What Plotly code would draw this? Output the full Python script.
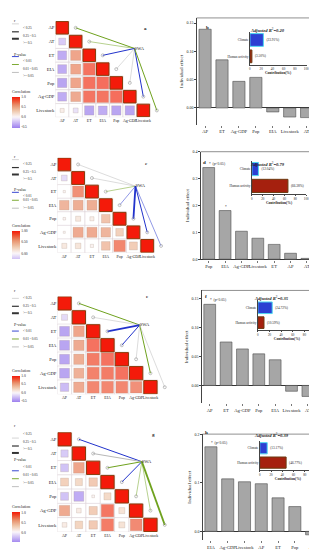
import plotly.graph_objects as go

W, H = 317, 550
FONT = "Liberation Serif"

variables = ["AP", "AT", "ET", "EIA", "Pop", "Ag-GDP", "Livestock"]

# lower-triangle correlations (row i, columns j < i)
corr_a = [[], [-0.30], [-0.50, 0.65], [-0.50, 0.65, 0.90], [-0.55, 0.65, 0.90, 0.92],
          [-0.50, 0.62, 0.88, 0.88, 0.92], [0.10, -0.15, -0.55, -0.50, -0.55, -0.55]]
corr_c = [[], [-0.20], [0.03, 0.75], [0.55, 0.60, 0.60], [0.04, 0.15, 0.10, 0.45],
          [0.02, 0.62, 0.62, 0.55, 0.35], [0.15, 0.18, 0.06, 0.45, 0.80, 0.38]]
corr_e = [[], [-0.20], [-0.55, 0.65], [-0.55, 0.62, 0.90], [-0.55, 0.60, 0.85, 0.90],
          [-0.55, 0.58, 0.82, 0.85, 0.90], [-0.40, 0.62, 0.80, 0.80, 0.80, 0.75]]
corr_g = [[], [-0.30], [-0.35, 0.65], [0.35, 0.28, 0.40], [-0.35, -0.55, 0.04, 0.28],
          [0.62, 0.12, 0.38, 0.88, 0.20], [0.12, 0.32, 0.40, 0.85, 0.20, 0.78]]

# Mantel test links to SWA
mantel_r_a = [0.30, 0.20, 0.30, 0.15, 0.20, 0.30, 0.30]
mantel_p_a = ["0.01 - 0.05", "0.01 - 0.05", "< 0.01", ">= 0.05", ">= 0.05", "< 0.01", "0.01 - 0.05"]
mantel_r_c = [0.15, 0.15, 0.15, 0.20, 0.55, 0.35, 0.20]
mantel_p_c = [">= 0.05", ">= 0.05", "0.01 - 0.05", "< 0.01", "< 0.01", "< 0.01", "< 0.01"]
mantel_r_e = [0.35, 0.15, 0.55, 0.35, 0.15, 0.35, 0.15]
mantel_p_e = ["0.01 - 0.05", ">= 0.05", "< 0.01", "< 0.01", ">= 0.05", "0.01 - 0.05", ">= 0.05"]
mantel_r_g = [0.35, 0.30, 0.30, 0.30, 0.20, 0.20, 0.55]
mantel_p_g = ["< 0.01", ">= 0.05", "0.01 - 0.05", "< 0.01", "0.01 - 0.05", "0.01 - 0.05", "0.01 - 0.05"]

r_legend = ["< 0.25", "0.25 - 0.5", ">= 0.5"]
p_legend = ["< 0.01", "0.01 - 0.05", ">= 0.05"]

# individual effects (bar charts)
cats_b = ["AP", "ET", "Ag-GDP", "Pop", "EIA", "Livestock", "AT"]
vals_b = [0.139, 0.085, 0.047, 0.054, -0.007, -0.016, -0.017]
cats_d = ["Pop", "EIA", "Ag-GDP", "Livestock", "ET", "AP", "AT"]
vals_d = [0.341, 0.181, 0.104, 0.078, 0.055, 0.022, 0.003]
cats_f = ["AP", "ET", "Ag-GDP", "Pop", "EIA", "Livestock", "AT"]
vals_f = [0.140, 0.075, 0.063, 0.0545, 0.0443, -0.010, -0.019]
cats_h = ["EIA", "Ag-GDP", "Livestock", "AP", "ET", "Pop", "AT"]
vals_h = [0.174, 0.108, 0.102, 0.098, 0.069, 0.051, -0.007]

# contributions (inset)
contrib_cats = ["Climate", "Human activity"]
contrib_b = [23.91, 3.50]
contrib_d = [12.04, 66.38]
contrib_f = [24.72, 10.59]
contrib_h = [13.17, 46.77]
r2_vals = ["0.20", "0.79", "0.35", "0.39"]

P_COL = {"< 0.01": "#2233cc", "0.01 - 0.05": "#6fa21e", ">= 0.05": "#b8b8b8"}


def r_width(r):
    return 0.5 if r < 0.25 else (1.0 if r < 0.5 else 1.8)


R_STOPS = [-0.6, -0.5, 0.0, 0.3, 0.6, 0.85, 1.0]
C_STOPS = ["#9274e8", "#a58af0", "#fbf7fa", "#efc8ac", "#e88d68", "#ef4526", "#f41a0a"]


def h2r(h):
    return tuple(int(h[i:i + 2], 16) for i in (1, 3, 5))


def col_at(v):
    if v <= R_STOPS[0]:
        return h2r(C_STOPS[0])
    for a in range(len(R_STOPS) - 1):
        if R_STOPS[a] <= v <= R_STOPS[a + 1]:
            t = (v - R_STOPS[a]) / (R_STOPS[a + 1] - R_STOPS[a])
            c0, c1 = h2r(C_STOPS[a]), h2r(C_STOPS[a + 1])
            return tuple(c0[q] + t * (c1[q] - c0[q]) for q in range(3))
    return h2r(C_STOPS[-1])


def build_scale(cmin, cmax, n=24):
    sc = []
    for q in range(n + 1):
        t = q / n
        c = col_at(cmin + t * (cmax - cmin))
        sc.append([t, "rgb(%d,%d,%d)" % tuple(int(round(x)) for x in c)])
    return sc


def aref(n, ax):
    return ax if n == 1 else f"{ax}{n}"


def akey(n, ax):
    return f"{ax}axis" if n == 1 else f"{ax}axis{n}"


fig = go.Figure()
layout = dict(width=W, height=H, margin=dict(l=0, r=0, t=0, b=0), paper_bgcolor="white",
              plot_bgcolor="rgba(0,0,0,0)", showlegend=False,
              font=dict(family=FONT, color="#222", size=5), annotations=[], shapes=[])


def pxx(x):
    return x / W


def pyy(y):
    return 1 - y / H


def heat_panel(k, corr, mr, mp, geom, swa, crange, cticks, cbar, letter, lpos):
    n = 4 * k + 1
    x0, cw, y0, ch = geom
    xa, ya = aref(n, "x"), aref(n, "y")
    cax = "coloraxis" if k == 0 else f"coloraxis{k + 1}"
    bx, by = [], []
    for i in range(7):
        for j in range(i + 1):
            bx.append(j)
            by.append(i)
    fig.add_trace(go.Scatter(x=bx, y=by, mode="markers", xaxis=xa, yaxis=ya, hoverinfo="skip",
                             marker=dict(symbol="square", size=cw, color="white",
                                         line=dict(color="#ddd3d8", width=0.6))))
    for i in range(7):
        fig.add_trace(go.Scatter(x=[i + 1.0, swa[0]], y=[i, swa[1]], mode="lines", xaxis=xa, yaxis=ya,
                                 line=dict(color=P_COL[mp[i]], width=r_width(mr[i])), hoverinfo="skip"))
    fig.add_trace(go.Scatter(x=[i + 1.0 for i in range(7)], y=list(range(7)), mode="markers",
                             xaxis=xa, yaxis=ya, hoverinfo="skip",
                             marker=dict(symbol="circle-open", size=3, color="#999", line=dict(width=0.6))))
    cx, cy, cv, cs = [], [], [], []
    for i in range(1, 7):
        for j, r in enumerate(corr[i]):
            cx.append(j)
            cy.append(i)
            cv.append(r)
            cs.append(max(2.0, cw * 0.92 * abs(r) ** 0.5))
    fig.add_trace(go.Scatter(x=cx, y=cy, mode="markers", xaxis=xa, yaxis=ya,
                             marker=dict(symbol="square", size=cs, color=cv, coloraxis=cax,
                                         line=dict(width=0.4, color="rgba(120,85,60,0.55)"))))
    fig.add_trace(go.Scatter(x=list(range(7)), y=list(range(7)), mode="markers", xaxis=xa, yaxis=ya,
                             marker=dict(symbol="square", size=cw - 1.2, color=[1.0] * 7, coloraxis=cax,
                                         line=dict(width=1.0, color="#8a3c0c"))))
    fig.add_trace(go.Scatter(x=[swa[0]], y=[swa[1]], mode="text", text=["SWA"], xaxis=xa, yaxis=ya,
                             textposition="middle right", textfont=dict(size=4.5, family=FONT)))
    layout[akey(n, "x")] = dict(domain=[pxx(x0), pxx(x0 + 8.2 * cw)], range=[-0.5, 7.7], anchor=ya,
                                tickvals=list(range(7)), ticktext=variables, showgrid=False,
                                zeroline=False, showline=False, ticks="", tickangle=0,
                                tickfont=dict(size=3.9))
    layout[akey(n, "y")] = dict(domain=[pyy(y0 + 7 * ch), pyy(y0)], range=[6.5, -0.5], anchor=xa,
                                tickvals=list(range(7)), ticktext=variables, showgrid=False,
                                zeroline=False, showline=False, ticks="", tickfont=dict(size=4.6))
    cy0, cy1 = cbar
    layout[cax] = dict(cmin=crange[0], cmax=crange[1], colorscale=build_scale(*crange),
                       colorbar=dict(x=pxx(3), xanchor="left", y=pyy((cy0 + cy1) / 2), yanchor="middle",
                                     len=cy1 - cy0, lenmode="pixels", thickness=8, thicknessmode="pixels",
                                     outlinewidth=0, tickvals=cticks[0], ticktext=cticks[1], ticks="",
                                     tickfont=dict(size=3.6), xpad=0, ypad=0,
                                     title=dict(text="Correlation", side="top", font=dict(size=4))))
    layout["annotations"].append(dict(text=f"<b>{letter}</b>", x=pxx(lpos[0]), y=pyy(lpos[1]),
                                      xref="paper", yref="paper", showarrow=False, font=dict(size=5)))


def legend_block(top):
    offs = [0, 8, 16, 23, 34, 41, 49, 57]
    ann = layout["annotations"]
    ann.append(dict(text="r", x=pxx(3), y=pyy(top + offs[0]), xref="paper", yref="paper",
                    xanchor="left", showarrow=False, font=dict(size=4)))
    ann.append(dict(text="P-value", x=pxx(3), y=pyy(top + offs[4]), xref="paper", yref="paper",
                    xanchor="left", showarrow=False, font=dict(size=4)))
    rcols = ["#bbbbbb", "#333333", "#333333"]
    rws = [0.6, 1.2, 2.0]
    for q in range(3):
        yy = top + offs[1 + q]
        layout["shapes"].append(dict(type="line", xref="paper", yref="paper", x0=pxx(3), x1=pxx(10),
                                     y0=pyy(yy), y1=pyy(yy), line=dict(color=rcols[q], width=rws[q])))
        ann.append(dict(text=r_legend[q], x=pxx(12), y=pyy(yy), xref="paper", yref="paper",
                        xanchor="left", showarrow=False, font=dict(size=3.4)))
        yy = top + offs[5 + q]
        layout["shapes"].append(dict(type="line", xref="paper", yref="paper", x0=pxx(3), x1=pxx(10),
                                     y0=pyy(yy), y1=pyy(yy), line=dict(color=P_COL[p_legend[q]], width=0.9)))
        ann.append(dict(text=p_legend[q], x=pxx(12), y=pyy(yy), xref="paper", yref="paper",
                        xanchor="left", showarrow=False, font=dict(size=3.4)))


def bar_panel(k, cats, vals, dx, dy, yrange, ytv, yfmt, letter, lpos, r2, r2pos, stars):
    n = 4 * k + 2
    xa, ya = aref(n, "x"), aref(n, "y")
    fig.add_trace(go.Bar(x=cats, y=vals, xaxis=xa, yaxis=ya, width=0.72,
                         marker=dict(color="#a6a6a6", line=dict(color="#4d4d4d", width=0.6))))
    layout[akey(n, "x")] = dict(domain=[pxx(dx[0]), pxx(dx[1])], anchor=ya, tickfont=dict(size=4.6),
                                ticks="outside", ticklen=2, tickcolor="#777", tickwidth=0.5,
                                tickangle=0, showline=False, showgrid=False)
    layout[akey(n, "y")] = dict(domain=[pyy(dy[1]), pyy(dy[0])], anchor=xa, range=yrange, tickvals=ytv,
                                tickformat=yfmt, tickfont=dict(size=4), ticks="outside", ticklen=1.5,
                                tickwidth=0.5, showline=True, linecolor="#444", linewidth=0.6,
                                showgrid=False, zeroline=True, zerolinecolor="#333", zerolinewidth=0.8,
                                title=dict(text="Individual effect", font=dict(size=5), standoff=2))
    layout["shapes"].append(dict(type="line", xref=f"{xa} domain", yref=f"{ya} domain", x0=0, x1=1,
                                 y0=1, y1=1, line=dict(color="#444", width=0.6)))
    ann = layout["annotations"]
    ann.append(dict(text=f"<b>{letter}</b>", x=pxx(lpos[0]), y=pyy(lpos[1]), xref="paper", yref="paper",
                    showarrow=False, font=dict(size=5)))
    ann.append(dict(text=f"<b><i>Adjusted R</i></b><sup>2</sup><b><i>={r2}</i></b>", x=pxx(r2pos[0]),
                    y=pyy(r2pos[1]), xref="paper", yref="paper", showarrow=False, font=dict(size=4.6)))
    for cat, txt in stars:
        v = vals[cats.index(cat)]
        ann.append(dict(text=txt, x=cat, y=v, xref=xa, yref=ya, xanchor="left", yanchor="bottom",
                        xshift=-2, showarrow=False, font=dict(size=3.6)))


def inset_panel(k, vals, dx, dy):
    n = 4 * k + 3
    xa, ya = aref(n, "x"), aref(n, "y")
    labels = ["(%.2f%%)" % v for v in vals]
    fig.add_trace(go.Bar(y=contrib_cats, x=vals, orientation="h", xaxis=xa, yaxis=ya, width=0.78,
                         marker=dict(color=["#2c3fd2", "#a5200e"],
                                     line=dict(color=["#4fd8f0", "#6b3a10"], width=[1.0, 1.0])),
                         text=labels, textposition="outside", cliponaxis=False,
                         textfont=dict(size=3.4, family=FONT)))
    layout[akey(n, "x")] = dict(domain=[pxx(dx[0]), pxx(dx[1])], anchor=ya, range=[0, 100],
                                tickvals=[0, 20, 40, 60, 80, 100], tickfont=dict(size=3.2),
                                ticks="outside", ticklen=1.2, tickwidth=0.4, showline=True,
                                linecolor="#444", linewidth=0.5, showgrid=False, zeroline=False,
                                tickangle=0,
                                title=dict(text="<b>Contribution(%)</b>", font=dict(size=3.6), standoff=1))
    layout[akey(n, "y")] = dict(domain=[pyy(dy[1]), pyy(dy[0])], anchor=xa, categoryorder="array",
                                categoryarray=["Human activity", "Climate"], tickfont=dict(size=3.4),
                                ticks="", showline=True, linecolor="#444", linewidth=0.5, showgrid=False)


# ---- row geometry ----
heat_panel(0, corr_a, mantel_r_a, mantel_p_a, (47, 13.7, 10, 13.9), (5.35, 1.5), (-0.55, 1.0),
           ([1.0, 0.5, 0.0, -0.5], ["1.0", "0.5", "0.0", "-0.5"]), (77, 118), "a", (138, 13))
heat_panel(1, corr_c, mantel_r_c, mantel_p_c, (49, 14.0, 148, 13.7), (5.15, 1.6), (-0.25, 1.0),
           ([1.0, 0.5, 0.0], ["1.00", "0.50", "0.00"]), (212, 250), "c", (139, 149))
heat_panel(2, corr_e, mantel_r_e, mantel_p_e, (49, 14.5, 288, 14.1), (5.25, 1.55), (-0.55, 1.0),
           ([1.0, 0.5, 0.0, -0.5], ["1.0", "0.5", "0.0", "-0.5"]), (358, 394), "e", (140, 288))
heat_panel(3, corr_g, mantel_r_g, mantel_p_g, (49, 14.5, 425, 14.4), (5.4, 1.57), (-0.5, 1.0),
           ([1.0, 0.5, 0.0], ["1.0", "0.5", "0.0"]), (496, 536), "g", (146, 432))

for top in (5, 142, 282, 423):
    legend_block(top)

bar_panel(0, cats_b, vals_b, (190, 310), (7, 115), [-0.030, 0.159], [0.0, 0.05, 0.10, 0.15], ".2f",
          "b", (201, 12), r2_vals[0], (282, 14), [])
bar_panel(1, cats_d, vals_d, (194, 310), (142, 251), [-0.002, 0.4], [0.0, 0.1, 0.2, 0.3, 0.4], ".1f",
          "d", (198, 148), r2_vals[1], (282, 149), [("Pop", "*  (p<0.05)"), ("EIA", "*")])
bar_panel(2, cats_f, vals_f, (195, 311), (282, 396), [-0.031, 0.164], [0.0, 0.05, 0.10, 0.15], ".2f",
          "f", (200, 288), r2_vals[2], (286, 290), [("AP", "*  (p<0.05)")])
bar_panel(3, cats_h, vals_h, (196, 315), (427, 534), [-0.018, 0.2], [0.0, 0.1, 0.2], ".1f",
          "h", (200, 430), r2_vals[3], (286, 433), [("EIA", "*  (p<0.05)")])

inset_panel(0, contrib_b, (244, 301), (21, 54))
inset_panel(1, contrib_d, (246, 301), (151, 185))
inset_panel(2, contrib_f, (252, 311), (292, 322))
inset_panel(3, contrib_h, (254, 311), (434, 463))

fig.update_layout(**layout)
fig.write_html("out.html")
